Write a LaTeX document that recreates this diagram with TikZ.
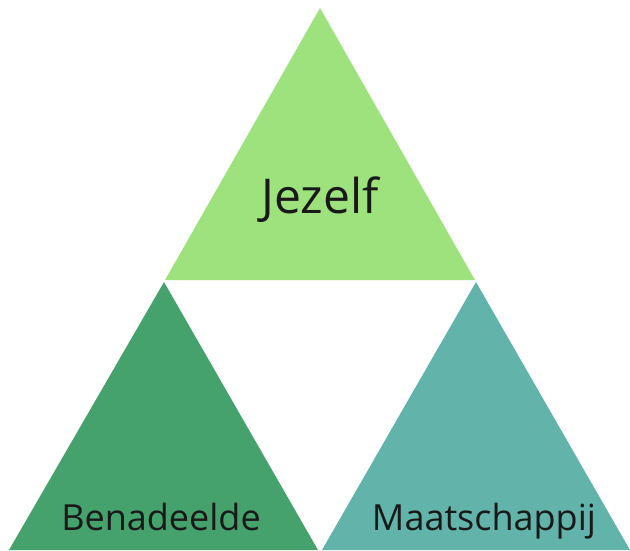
\documentclass[tikz,border=0pt]{standalone}
\usepackage{fontspec}
\setmainfont{Open Sans}
\usepackage{xcolor}
\usepackage{tikz}

\definecolor{selfgreen}{RGB}{158,226,126}
\definecolor{victimgreen}{RGB}{70,162,108}
\definecolor{societyteal}{RGB}{98,180,170}

\begin{document}
\begin{tikzpicture}[
  x=1pt, y=-1pt,
  piece/.style={draw=none},
  label text/.style={text=black!90, inner sep=0pt, anchor=base}]

\useasboundingbox (0,0) rectangle (630,550);

\fill[piece, selfgreen] (320,8) -- (475,280) -- (165,280) -- cycle;
\fill[piece, victimgreen] (164,282) -- (318,550) -- (9,550) -- cycle;
\fill[piece, societyteal] (476,282) -- (630,550) -- (322,550) -- cycle;

\node[label text, font=\fontsize{48}{52}\selectfont] (self) at (320,213) {Jezelf};
\node[label text, font=\fontsize{36}{40}\selectfont] (victim) at (161,530) {Benadeelde};
\node[label text, font=\fontsize{36}{40}\selectfont] (society) at (484,530) {Maatschappij};
\end{tikzpicture}
\end{document}
